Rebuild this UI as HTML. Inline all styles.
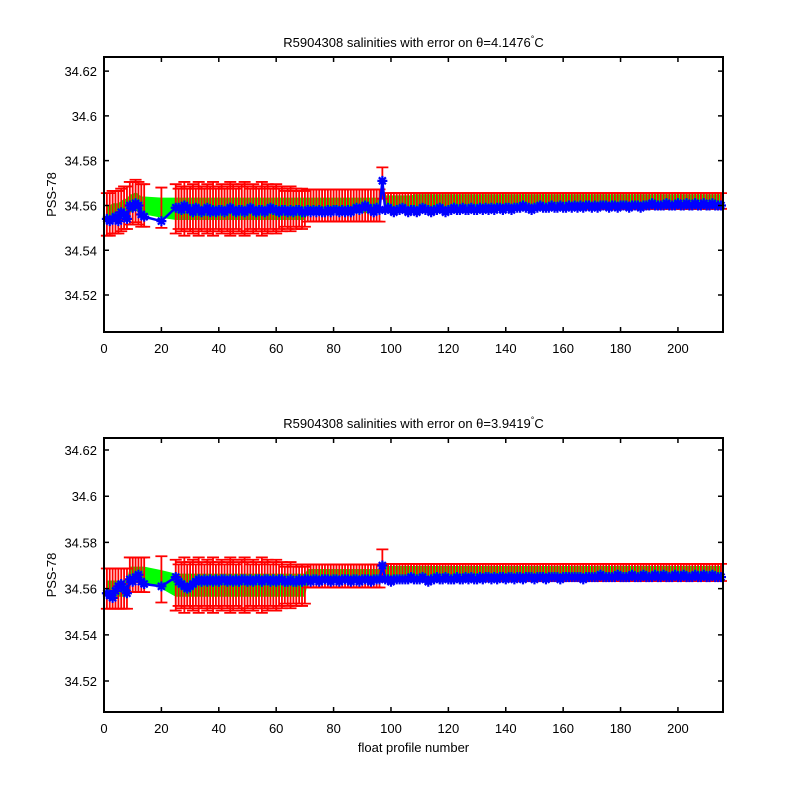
<!DOCTYPE html>
<html><head><meta charset="utf-8"><style>
body{margin:0;background:#fff}
svg{display:block;font-family:"Liberation Sans",Arial,sans-serif}
</style></head><body>
<svg id="fig" width="800" height="800" viewBox="0 0 800 800" xmlns="http://www.w3.org/2000/svg">
<rect width="800" height="800" fill="#fff"/>
</svg>
<script>
function range(a,b){const r=[];for(let i=a;i<=b;i++)r.push(i);return r;}
function rep(v,n){return new Array(n).fill(v);}
const profiles=[].concat(range(1,14),[20],range(25,215));
const xTicks=[0,20,40,60,80,100,120,140,160,180,200];
const yTicks=[34.52,34.54,34.56,34.58,34.6,34.62];
const yTickLabels=["34.52","34.54","34.56","34.58","34.6","34.62"];
const titles=["4.1476","3.9419"];

const blueTop=[34.554,34.553,34.554,34.555,34.553,34.557,34.556,34.554,34.560,34.559,34.561,34.560,34.556,34.555,
34.553,
34.559,34.559,34.558,34.560,34.559,34.558,34.557,34.559,34.558,34.557,
34.558,34.559,34.557,34.558,34.557,34.558,34.558,34.557,34.558,34.559,
34.558,34.557,34.558,34.558,34.557,34.558,34.559,34.558,34.557,34.558,
34.558,34.557,34.558,34.559,34.558,34.558,34.557,34.558,34.558,34.557,
34.558,34.557,34.558,34.558,34.557,34.557,34.558,34.557,34.558,34.557,
34.558,34.557,34.557,34.558,34.557,34.558,34.558,34.557,34.558,34.557,
34.558,34.557,34.558,34.559,34.558,34.559,34.560,34.559,34.558,34.557,
34.559,34.558,34.571,34.558,34.559,34.558,34.557,34.558,34.558,34.559,
34.558,34.557,34.558,34.558,34.557,34.558,34.559,34.558,34.558,34.557,
34.558,34.558,34.559,34.558,34.557,34.558,34.558,34.559,34.558,34.558,
34.559,34.558,34.558,34.559,34.558,34.558,34.559,34.558,34.559,34.558,
34.559,34.558,34.559,34.559,34.558,34.559,34.559,34.558,34.559,34.559,
34.559,34.560,34.559,34.559,34.558,34.559,34.559,34.560,34.559,34.559,
34.559,34.560,34.559,34.559,34.560,34.559,34.559,34.560,34.559,34.560,
34.559,34.560,34.559,34.560,34.560,34.559,34.560,34.559,34.560,34.560,
34.560,34.559,34.560,34.560,34.559,34.560,34.560,34.560,34.559,34.560,
34.560,34.560,34.559,34.560,34.560,34.560,34.561,34.560,34.560,34.560,
34.560,34.561,34.560,34.560,34.560,34.561,34.560,34.560,34.561,34.560,
34.560,34.561,34.560,34.560,34.561,34.560,34.560,34.561,34.560,34.560,34.560];
const midErr=[0.011,0.009,0.010,0.012,0.009,0.010,0.011,0.009,0.012,0.010,0.009,0.011,0.010,0.012,0.009,0.010,0.011,0.009,0.010,0.012,0.011,0.009,0.010,0.011,0.012,0.010,0.009,0.011,0.010,0.009,0.012,0.010,0.011,0.009,0.010,0.011,0.009,0.010,0.008,0.009,0.010,0.008,0.009,0.008,0.009,0.008];
const mapTop=[].concat([34.556,34.556,34.557,34.557,34.557,34.558,34.559,34.559,34.561,34.561,34.562,34.561,34.560,34.560],
[34.559],rep(34.5585,46),rep(34.560,26),[34.570],rep(34.5615,10),rep(34.562,108));
const errTop=[].concat(rep(0.0095,14),[0.009],midErr,rep(0.0072,26),[0.007],rep(0.004,10),rep(0.0035,108));
const greenTop=[].concat(rep(0.004,14),[0.0045],rep(0.005,46),rep(0.0035,26),[0.003],rep(0.003,118));

const blueBot=[34.558,34.557,34.556,34.559,34.561,34.562,34.560,34.558,34.564,34.563,34.565,34.566,34.563,34.562,
34.561,
34.565,34.563,34.562,34.561,34.560,34.561,34.562,34.563,34.564,34.563,34.564,34.563,34.564,34.563,34.564,34.563,34.564,34.564,34.563,34.564,
34.563,34.564,34.563,34.564,34.564,34.563,34.564,34.563,34.564,34.564,34.563,34.564,34.564,34.563,34.564,34.563,34.564,34.564,34.563,34.563,
34.564,34.563,34.563,34.564,34.563,34.564,34.564,34.563,34.564,34.564,34.563,34.564,34.564,34.564,34.563,34.564,34.564,34.563,34.564,34.564,
34.564,34.563,34.564,34.564,34.563,34.564,34.564,34.564,34.563,34.564,34.564,34.564,34.570,34.564,34.564,34.563,34.564,34.564,34.564,34.564,
34.564,34.564,34.565,34.564,34.564,34.564,34.565,34.564,34.563,34.564,34.564,34.565,34.564,34.564,34.565,34.564,34.564,34.564,34.565,34.564,
34.564,34.565,34.564,34.565,34.564,34.564,34.565,34.564,34.565,34.565,34.564,34.565,34.564,34.565,34.565,34.564,34.565,34.565,34.564,34.565,
34.565,34.564,34.565,34.565,34.565,34.564,34.565,34.565,34.565,34.564,34.565,34.565,34.565,34.565,34.564,34.565,34.565,34.565,34.565,34.565,
34.565,34.565,34.564,34.565,34.565,34.565,34.565,34.565,34.566,34.565,34.565,34.565,34.565,34.565,34.566,34.565,34.565,34.565,34.565,34.566,
34.565,34.565,34.565,34.566,34.565,34.565,34.565,34.566,34.565,34.565,34.566,34.565,34.565,34.565,34.566,34.565,34.565,34.566,34.565,34.565,
34.565,34.566,34.565,34.565,34.566,34.565,34.565,34.566,34.565,34.565,34.565];
const mapBot=[].concat(rep(34.560,8),rep(34.566,6),[34.564],rep(34.5615,46),rep(34.5655,26),[34.570],rep(34.567,118));
const errBot=[].concat(rep(0.0087,8),rep(0.0075,6),[0.010],midErr,rep(0.005,26),[0.007],rep(0.0037,118));
const greenBot=[].concat(rep(0.0035,14),[0.004],rep(0.005,46),rep(0.003,26),[0.003],rep(0.0028,118));

const NS="http://www.w3.org/2000/svg";
const fig=document.getElementById('fig');
function el(tag,attrs,parent){const e=document.createElementNS(NS,tag);for(const k in attrs)e.setAttribute(k,attrs[k]);(parent||fig).appendChild(e);return e;}

const panels=[
 {L:104,R:723,T:57,B:332,ymin:34.5035,ymax:34.6263,blue:blueTop,map:mapTop,err:errTop,green:greenTop,title:titles[0],name:'top'},
 {L:104,R:723,T:438,B:712,ymin:34.5066,ymax:34.6252,blue:blueBot,map:mapBot,err:errBot,green:greenBot,title:titles[1],name:'bottom'}
];
const xmin=0,xmax=215.7;

panels.forEach((p,pi)=>{
 const g=el('g',{});
 
 
 const X=v=>p.L+(v-xmin)/(xmax-xmin)*(p.R-p.L);
 const Y=v=>p.B-(v-p.ymin)/(p.ymax-p.ymin)*(p.B-p.T);
 const n=Math.min(profiles.length,p.blue.length,p.map.length,p.err.length,p.green.length);
 let up=[],dn=[];
 for(let i=0;i<n;i++){up.push(X(profiles[i])+','+Y(p.map[i]+p.green[i]));dn.unshift(X(profiles[i])+','+Y(p.map[i]-p.green[i]));}
 const band=el('polygon',{points:up.concat(dn).join(' '),fill:'#00ff00',stroke:'none'},g);
 
 
 const eg=el('g',{stroke:'#ff0000','stroke-width':1.8,fill:'none'},g);
 
 
 for(let i=0;i<n;i++){
  const x=X(profiles[i]),y1=Y(p.map[i]+p.err[i]),y2=Y(p.map[i]-p.err[i]);
  const b=el('path',{d:`M${x},${y1}V${y2}M${x-6},${y1}H${x+6}M${x-6},${y2}H${x+6}`},eg);
  
  
 }
 let cur=[];
 for(let i=0;i<n;i++){cur.push(X(profiles[i])+','+Y(p.blue[i]));}
 const ln=el('polyline',{points:cur.join(' '),stroke:'#0000ff','stroke-width':2.5,fill:'none'},g);
 
 
 const mg=el('g',{stroke:'#0000ff','stroke-width':2.2},g);
 
 
 for(let i=0;i<n;i++){
  const x=X(profiles[i]),y=Y(p.blue[i]),s=5;
  const m=el('path',{d:`M${x-s},${y}H${x+s}M${x},${y-s}V${y+s}M${x-3.5},${y-3.5}L${x+3.5},${y+3.5}M${x-3.5},${y+3.5}L${x+3.5},${y-3.5}`},mg);
  
  
 }
 const box=el('rect',{x:p.L,y:p.T,width:p.R-p.L,height:p.B-p.T,fill:'none',stroke:'#000','stroke-width':2},g);
 
 
 xTicks.forEach(t=>{
  const x=X(t);
  const tk=el('path',{d:`M${x},${p.B}v-5M${x},${p.T}v5`,stroke:'#000','stroke-width':1.5},g);
  
  
  const tl=el('text',{x:x,y:p.B+21,'font-size':13,'text-anchor':'middle',fill:'#000'},g);
  tl.textContent=String(t);
  
  
 });
 yTicks.forEach((t,i)=>{
  const y=Y(t);
  const tk=el('path',{d:`M${p.L},${y}h5M${p.R},${y}h-5`,stroke:'#000','stroke-width':1.5},g);
  
  
  const tl=el('text',{x:p.L-7,y:y+5,'font-size':13,'text-anchor':'end',fill:'#000'},g);
  tl.textContent=yTickLabels[i];
  
  
 });
 const yl=el('text',{x:0,y:0,'font-size':13,'text-anchor':'middle',transform:`translate(56,${(p.T+p.B)/2}) rotate(-90)`},g);
 yl.textContent='PSS-78';
 
 
 const tt=el('text',{x:(p.L+p.R)/2,y:p.T-10,'font-size':13,'text-anchor':'middle'},g);
 
 
 const t1=el('tspan',{},tt);t1.textContent='R5904308 salinities with error on θ='+p.title;
 const t2=el('tspan',{dy:-5,'font-size':9},tt);t2.textContent='°';
 const t3=el('tspan',{dy:5},tt);t3.textContent='C';
});
const xl=el('text',{x:413.5,y:752,'font-size':13,'text-anchor':'middle'});
xl.textContent='float profile number';


</script>
</body></html>
